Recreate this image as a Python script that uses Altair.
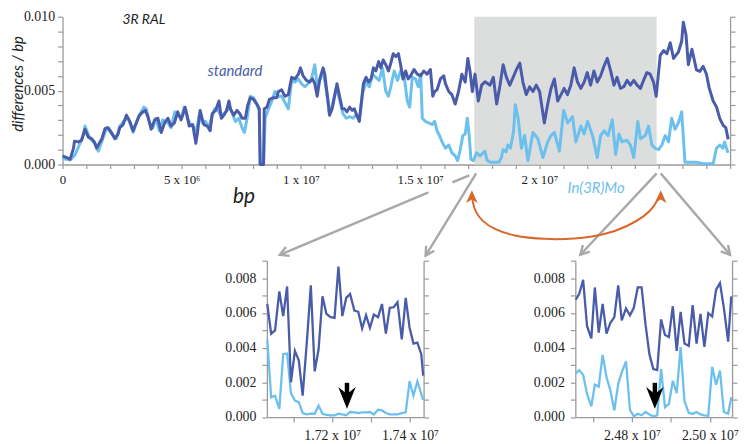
import math
import altair as alt
import pandas as pd

# ---------------- data ----------------
# main panel: position in Mb, differences per kb (= differences/bp x 1000)
STD_MB = [0.00,0.18,0.32,0.46,0.50,0.67,0.80,0.94,1.08,1.22,
          1.33,1.43,1.57,1.64,1.78,1.91,2.05,2.19,2.33,2.40,
          2.54,2.68,2.82,2.96,3.09,3.23,3.37,3.47,3.58,3.72,
          3.86,4.00,4.14,4.28,4.42,4.55,4.69,4.83,4.97,5.04,
          5.14,5.22,5.31,5.46,5.59,5.66,5.77,5.87,5.93,6.07,
          6.19,6.28,6.42,6.56,6.66,6.77,6.88,6.98,7.04,7.18,
          7.32,7.43,7.53,7.67,7.76,7.875,8.01,8.15,8.25,8.29,
          8.43,8.46,8.57,8.68,8.85,8.99,9.05,9.19,9.33,9.47,
          9.61,9.75,9.89,9.98,10.09,10.23,10.37,10.48,10.58,10.68,
          10.79,10.93,11.00,11.06,11.13,11.20,11.31,11.41,11.51,11.62,
          11.73,11.83,11.93,12.04,12.15,12.24,12.34,12.45,12.52,12.62,
          12.73,12.84,12.94,13.04,13.14,13.26,13.35,13.45,13.56,13.67,
          13.77,13.87,13.98,14.09,14.18,14.28,14.39,14.50,14.60,14.74,
          14.88,15.02,15.15,15.29,15.43,15.53,15.61,15.71,15.85,15.99,
          16.06,16.20,16.33,16.47,16.61,16.75,16.89,17.00,17.09,17.19,
          17.30,17.44,17.58,17.72,17.93,18.07,18.21,18.35,18.48,18.62,
          18.76,18.90,19.04,19.18,19.31,19.45,19.59,19.73,19.87,20.01,
          20.15,20.21,20.35,20.49,20.63,20.77,20.91,21.04,21.18,21.32,
          21.46,21.60,21.74,21.88,22.01,22.15,22.29,22.43,22.57,22.71,
          22.85,22.99,23.13,23.26,23.40,23.54,23.68,23.82,23.96,24.10,
          24.24,24.37,24.51,24.65,24.79,24.90,25.00,25.07,25.21,25.35,
          25.49,25.63,25.83,25.97,26.04,26.15,26.25,26.40,26.59,26.73,
          26.87,27.01,27.12,27.29,27.43,27.57,27.71,27.82,27.92]
STD_PER_KB = [0.58,0.47,0.36,1.11,1.58,1.53,1.64,2.38,1.85,1.75,
              1.53,1.11,1.53,1.70,2.43,2.49,2.17,1.75,2.07,2.49,
              2.70,3.34,2.92,2.28,2.81,3.34,3.56,3.66,3.24,2.38,
              3.02,3.13,2.17,2.81,3.13,2.60,2.81,3.56,3.02,3.34,
              3.88,3.34,2.60,2.70,1.43,2.17,3.66,3.02,2.70,2.60,
              2.28,3.45,3.66,4.30,3.13,3.34,3.66,4.30,3.77,3.34,
              3.66,3.45,3.13,3.13,3.98,4.52,4.41,4.09,3.77,0.00,
              0.00,3.77,3.88,4.41,4.52,4.52,4.94,5.05,4.62,4.73,
              5.90,5.79,6.11,6.54,6.00,5.69,5.58,5.79,5.47,4.62,
              5.79,6.54,6.11,5.26,4.41,3.34,3.77,4.62,5.47,4.62,
              3.77,3.77,3.56,3.88,3.66,3.77,3.34,2.92,3.98,5.47,
              5.90,5.58,5.79,6.54,6.33,6.96,6.54,7.07,6.75,6.33,
              6.86,7.50,7.30,7.50,6.75,5.79,6.33,5.79,6.00,6.43,
              6.11,6.00,6.33,6.11,6.43,4.62,4.94,5.05,5.79,6.00,
              5.47,4.94,4.73,4.09,4.94,6.11,5.58,7.18,6.33,4.94,
              6.11,4.30,5.37,5.60,5.37,5.90,4.09,5.37,6.75,5.90,
              5.37,5.90,6.43,6.86,5.58,4.73,5.26,4.94,5.37,4.94,
              3.45,2.81,4.09,5.15,5.79,4.30,4.73,5.15,4.73,5.37,
              6.54,5.58,5.15,5.58,6.22,5.37,6.33,5.58,6.00,6.65,
              7.18,6.33,5.37,5.90,5.15,5.26,5.69,5.37,5.69,5.37,
              5.15,5.69,6.22,6.11,5.58,4.62,6.22,7.39,7.71,7.50,
              8.24,7.18,7.60,8.34,9.63,8.80,6.75,7.80,6.40,6.30,
              6.65,6.11,5.20,4.30,3.90,3.10,2.65,2.50,1.70]

MO_MB = [0.00,0.18,0.32,0.46,0.53,0.67,0.87,0.94,1.15,1.36,
         1.50,1.71,1.85,2.12,2.26,2.40,2.61,2.75,2.96,3.16,
         3.41,3.51,3.65,3.79,3.92,4.06,4.20,4.42,4.55,4.71,
         4.85,4.99,5.10,5.24,5.38,5.52,5.59,5.73,5.87,6.00,
         6.14,6.24,6.38,6.52,6.63,6.77,6.91,7.02,7.25,7.39,
         7.53,7.63,7.74,7.875,8.01,8.15,8.25,8.29,8.43,8.50,
         8.64,8.78,8.91,9.05,9.19,9.33,9.47,9.61,9.75,9.89,
         10.02,10.16,10.30,10.44,10.58,10.68,10.79,10.93,11.06,11.20,
         11.34,11.48,11.62,11.76,11.90,12.04,12.18,12.31,12.45,12.59,
         12.73,12.87,13.01,13.14,13.28,13.42,13.56,13.67,13.77,13.91,
         14.05,14.18,14.32,14.46,14.56,14.67,14.81,14.92,15.02,15.09,
         15.22,15.36,15.50,15.61,15.71,15.81,15.92,16.06,16.20,16.33,
         16.47,16.57,16.68,16.79,16.89,16.98,17.05,17.13,17.23,17.37,
         17.51,17.64,17.72,17.80,17.93,18.13,18.30,18.41,18.48,18.60,
         18.68,18.79,18.92,18.99,19.11,19.25,19.38,19.52,19.73,19.94,
         20.15,20.35,20.49,20.63,20.84,21.02,21.19,21.39,21.53,21.74,
         21.88,22.02,22.23,22.43,22.57,22.71,22.88,23.06,23.20,23.34,
         23.47,23.68,23.82,23.96,24.13,24.24,24.45,24.58,24.72,24.86,
         25.00,25.14,25.28,25.42,25.55,25.69,25.83,25.97,26.11,26.59,
         26.87,27.29,27.43,27.57,27.70,27.77,27.91]
MO_PER_KB = [0.40,0.35,0.30,0.55,0.68,1.19,2.00,2.60,1.75,1.43,
             0.90,1.85,2.49,1.96,1.75,2.60,3.02,3.13,2.17,3.13,
             3.88,3.77,2.81,2.49,3.13,2.28,3.02,2.81,2.49,3.56,
             3.34,3.13,3.88,3.13,2.70,2.49,2.07,3.34,2.81,2.92,
             2.49,3.13,3.77,3.66,3.34,3.45,3.66,3.88,2.92,3.13,
             2.49,2.17,3.13,4.62,4.52,4.09,3.66,0.00,0.00,3.13,
             3.77,4.30,4.94,4.62,4.62,4.20,3.77,5.69,5.58,5.79,
             5.47,5.26,5.47,5.79,6.75,5.26,5.69,6.33,5.05,3.34,
             4.20,5.15,4.41,3.45,3.13,3.24,3.13,3.34,3.13,4.84,
             5.58,5.26,6.11,5.90,5.69,6.54,4.94,4.62,5.26,6.33,
             5.69,6.33,6.11,4.30,3.88,5.90,5.79,5.26,6.11,3.13,
             2.92,2.81,2.71,2.92,2.28,1.96,1.53,1.11,1.32,0.79,
             0.58,0.26,1.00,1.96,2.07,3.13,2.07,0.36,0.26,0.79,
             0.58,0.79,0.90,0.30,0.15,0.15,0.15,0.47,1.00,0.85,
             1.32,1.11,2.28,4.05,3.13,1.10,1.96,0.26,2.17,1.74,
             0.47,1.53,1.96,2.17,0.90,3.66,2.81,3.24,1.53,2.60,
             2.07,2.92,1.96,0.47,1.96,2.28,1.96,3.02,0.68,2.07,
             1.53,1.64,1.32,0.47,2.92,1.74,1.96,2.60,1.32,1.10,
             1.00,1.32,1.96,1.53,3.13,2.38,2.81,3.56,0.15,0.15,
             0.05,0.05,1.10,1.32,1.10,1.53,0.79]

# left inset (zoom near 17.2 Mb)
INS1_MB = [17.033,17.043,17.053,17.064,17.074,17.084,17.094,17.104,17.114,17.124,
           17.135,17.145,17.155,17.165,17.175,17.185,17.196,17.206,17.216,17.226,
           17.236,17.246,17.257,17.267,17.277,17.287,17.297,17.307,17.318,17.328,
           17.338,17.348,17.358,17.368,17.379,17.389,17.399,17.409,17.419,17.429,17.434]
INS1_STD = [6.51,4.80,4.99,7.23,5.81,7.52,2.00,3.81,3.27,1.23,
            4.40,7.58,2.63,3.90,6.95,5.94,5.75,5.71,8.66,5.81,
            6.86,7.09,6.13,6.06,5.10,5.86,5.14,5.90,5.75,6.51,
            4.80,6.29,6.32,6.61,4.47,6.86,5.14,4.23,4.28,3.62,2.38]
INS1_MO = [4.47,1.14,1.23,0.47,3.62,3.66,1.37,0.95,0.86,0.23,
           0.15,0.19,0.19,0.66,0.19,0.13,0.10,0.10,0.19,0.15,
           0.10,0.29,0.27,0.23,0.27,0.27,0.29,0.15,0.42,0.38,
           0.23,0.15,0.15,0.15,0.23,0.27,2.06,1.23,2.06,1.33,0.99]

# right inset (zoom near 24.85 Mb)
INS2_MB = [24.656,24.665,24.675,24.685,24.696,24.705,24.715,24.725,24.735,24.745,
           24.755,24.765,24.774,24.785,24.795,24.805,24.815,24.825,24.835,24.845,
           24.855,24.865,24.875,24.885,24.895,24.905,24.915,24.925,24.935,24.946,
           24.956,24.966,24.976,24.986,24.996,25.006,25.016,25.026,25.036,25.047,25.055]
INS2_STD = [6.76,7.09,7.90,5.23,4.53,7.46,4.86,6.51,4.80,5.43,
            5.75,7.58,5.56,6.25,5.86,6.29,7.46,7.46,5.33,3.62,
            2.76,2.70,5.62,4.72,4.61,6.38,3.81,6.06,4.23,4.09,
            6.44,4.23,5.94,4.04,5.98,5.79,7.33,7.71,6.29,4.34,6.95]
INS2_MO = [2.51,2.70,2.44,1.33,0.61,1.86,1.75,3.58,2.29,1.52,
           0.38,1.90,2.57,3.20,0.42,0.04,0.19,0.10,0.29,0.15,
           0.04,0.10,2.76,0.57,0.76,2.09,1.37,4.03,0.91,0.23,
           0.19,0.29,0.15,0.10,0.08,2.89,1.86,2.67,0.29,0.19,1.14]

# highlighted region and inset windows (Mb)
BOX_MB = [17.27, 24.92]
INS1_DOMAIN_MB = [17.032, 17.435]
INS2_DOMAIN_MB = [24.655, 25.057]
INS1_TICKS_MB = [17.1, 17.2, 17.3, 17.4]
INS2_TICKS_MB = [24.7, 24.8, 24.9, 25.0]
INS1_LABELS = {17.2: "1.72 x 10⁷", 17.4: "1.74 x 10⁷"}
INS2_LABELS = {24.8: "2.48 x 10⁷", 25.0: "2.50 x 10⁷"}
MAIN_LABELS = {0: "0", 5: "5 x 10⁶", 10: "1 x 10⁷", 15: "1.5 x 10⁷", 20: "2 x 10⁷"}

# black markers in the insets: Mb position, tip / shaft-top values (per kb)
INS1_MARK_MB, INS2_MARK_MB = 17.238, 24.859
MARK_TIP, MARK_TOP = 0.47, 1.97

# annotation geometry in main-panel data units (Mb, per kb)
GRAY_SEGMENTS = [  # x1, y1, x2, y2
    (17.06, -0.74, 16.35, -1.21),
    (15.35, -1.89, 9.11, -6.11),
    (17.35, -0.60, 15.23, -6.17),
    (24.92, -0.60, 21.72, -6.11),
    (25.09, -0.60, 28.00, -6.11),
]
GRAY_HEAD_FROM = [1, 2, 3, 4]  # segments that end with an arrow head
ORANGE_MB = [17.18,17.22,17.35,17.64,18.14,18.97,20.22,21.47,22.72,23.67,24.38,24.80,25.01,25.07]
ORANGE_PER_KB = [-2.15,-2.62,-3.22,-3.83,-4.36,-4.80,-5.03,-5.00,-4.70,-4.16,-3.49,-2.82,-2.21,-2.08]
ORANGE_TIPS = [(17.17, -1.74), (25.09, -1.74)]
TEXTS = [  # text, Mb, per kb, color key, size
    ("3R RAL", 3.41, 9.77, "ink", 14),
    ("standard", 7.24, 6.30, "dark", 15),
    ("In(3R)Mo", 22.38, -1.61, "light", 15),
    ("bp", 7.61, -2.21, "ink", 21),
]
YTITLE = ("differences / bp", -1.87, 5.45)

# ---------------- style ----------------
W, H = 673, 149
IW, IH = 158, 157.6
XMAX, YMAX, IYMAX = 28e6, 0.010, 0.009
DARK = "#4a5ca9"
LIGHT = "#6cc0ee"
BOXGRAY = "#dcdddd"
ARROWGRAY = "#a8a8a8"
ORANGE = "#d7692b"
AXISGRAY = "#9a9a9a"
INK = "#222222"
SERIF = "Liberation Serif"
SANS = "Lato"
COLORS = {"ink": INK, "dark": DARK, "light": LIGHT}

CHEVRON = "M-0.55,1 L0,0 L0.55,1"
OHEAD = "M0,0 L-0.5,1.1 L0,0.8 L0.5,1.1 Z"
BHEAD = "M0,0 L-0.68,-1.7 L0,-1.15 L0.68,-1.7 Z"


def bp(mb):
    return [m * 1e6 for m in mb]


def dpb(pk):
    return [p / 1000 for p in pk]


def label_expr(d, scale):
    parts = [f"datum.value == {int(round(k * scale))} ? '{v}'" for k, v in d.items()]
    return " : ".join(parts) + " : ''"


# ---------------- main panel ----------------
xs = alt.Scale(domain=[0, XMAX], nice=False, zero=False)
ys = alt.Scale(domain=[0, YMAX], nice=False)
main_x_axis = alt.Axis(values=[i * 1e6 for i in range(29)], labelExpr=label_expr(MAIN_LABELS, 1e6),
                       title="", tickSize=4, labelFontSize=13, labelPadding=5,
                       labelFlush=False, labelOverlap=False)
main_y_axis = alt.Axis(values=[i / 1000 for i in range(11)],
                       labelExpr="round(datum.value*1000) % 5 == 0 ? format(datum.value, '.3f') : ''",
                       title="", tickSize=5, labelFontSize=14, labelPadding=3,
                       labelFlush=False, labelOverlap=False)
main_right_axis = alt.Axis(orient="right", values=[i / 1000 for i in range(11)], labels=False,
                           title="", tickSize=5)


def MX(f="x"):
    return alt.X(f"{f}:Q", scale=xs, axis=main_x_axis)


def MY(f="y"):
    return alt.Y(f"{f}:Q", scale=ys, axis=main_y_axis)


box = alt.Chart(pd.DataFrame({"x": [bp(BOX_MB)[0]], "x2": [bp(BOX_MB)[1]],
                              "y": [0.0], "y2": [YMAX]})).mark_rect(color=BOXGRAY).encode(
    x=MX(), x2="x2:Q", y=MY(), y2="y2:Q")

mo_line = alt.Chart(pd.DataFrame({"x": bp(MO_MB), "y": dpb(MO_PER_KB)})).mark_line(
    color=LIGHT, strokeWidth=3, strokeJoin="round").encode(x=MX(), y=MY())
std_line = alt.Chart(pd.DataFrame({"x": bp(STD_MB), "y": dpb(STD_PER_KB)})).mark_line(
    color=DARK, strokeWidth=3, strokeJoin="round").encode(x=MX(), y=MY())

seg_df = pd.DataFrame({
    "x": [s[0] * 1e6 for s in GRAY_SEGMENTS], "y": [s[1] / 1000 for s in GRAY_SEGMENTS],
    "x2": [s[2] * 1e6 for s in GRAY_SEGMENTS], "y2": [s[3] / 1000 for s in GRAY_SEGMENTS]})
segs = alt.Chart(seg_df).mark_rule(color=ARROWGRAY, strokeWidth=2.4).encode(
    x=MX(), y=MY(), x2="x2:Q", y2="y2:Q")

kx, ky = W / XMAX, H / YMAX
heads = []
for i in GRAY_HEAD_FROM:
    x1, y1, x2, y2 = GRAY_SEGMENTS[i]
    dx = (x2 - x1) * 1e6 * kx
    dy = -(y2 - y1) / 1000 * ky
    ang = math.degrees(math.atan2(dx, -dy)) % 360
    heads.append({"x": x2 * 1e6, "y": y2 / 1000, "ang": ang})
gray_heads = alt.Chart(pd.DataFrame(heads)).mark_point(
    shape=CHEVRON, size=310, filled=False, color=ARROWGRAY, strokeWidth=2.4, opacity=1).encode(
    x=MX(), y=MY(), angle=alt.Angle("ang:Q", scale=None))

orange = alt.Chart(pd.DataFrame({"x": bp(ORANGE_MB), "y": dpb(ORANGE_PER_KB)})).mark_line(
    color=ORANGE, strokeWidth=2, interpolate="natural").encode(x=MX(), y=MY())
orange_heads = alt.Chart(pd.DataFrame({"x": [t[0] * 1e6 for t in ORANGE_TIPS],
                                       "y": [t[1] / 1000 for t in ORANGE_TIPS]})).mark_point(
    shape=OHEAD, size=557, filled=True, color=ORANGE, opacity=1).encode(x=MX(), y=MY())

txt_df = pd.DataFrame({"t": [t[0] for t in TEXTS], "x": [t[1] * 1e6 for t in TEXTS],
                       "y": [t[2] / 1000 for t in TEXTS], "c": [COLORS[t[3]] for t in TEXTS],
                       "s": [t[4] for t in TEXTS]})
texts = alt.Chart(txt_df).mark_text(font=SANS, fontStyle="italic", baseline="middle").encode(
    x=MX(), y=MY(), text="t:N", color=alt.Color("c:N", scale=None), size=alt.Size("s:Q", scale=None))
ytitle = alt.Chart(pd.DataFrame({"t": [YTITLE[0]], "x": [YTITLE[1] * 1e6], "y": [YTITLE[2] / 1000]})).mark_text(
    font=SANS, fontStyle="italic", fontSize=15, angle=270, color=INK, baseline="middle").encode(
    x=MX(), y=MY(), text="t:N")

main_dummy = alt.Chart(pd.DataFrame({"y": [0.0]})).mark_point(opacity=0).encode(
    y=alt.Y("y:Q", scale=ys, axis=main_right_axis))

top = alt.layer(
    alt.layer(box, mo_line, std_line, segs, gray_heads, orange, orange_heads, texts, ytitle),
    main_dummy,
).resolve_scale(y="independent").properties(width=W, height=H)


# ---------------- insets ----------------
def inset(mb, std, mo, dom_mb, ticks_mb, labels, mark_mb):
    ixs = alt.Scale(domain=bp(dom_mb), nice=False, zero=False)
    iys = alt.Scale(domain=[0, IYMAX], nice=False)
    xax = alt.Axis(values=bp(ticks_mb), labelExpr=label_expr(labels, 1e6), title="", tickSize=5,
                   labelFontSize=14, labelPadding=7, labelFlush=False, labelOverlap=False)
    yax = alt.Axis(values=[i / 1000 for i in range(10)],
                   labelExpr="round(datum.value*1000) % 2 == 0 ? format(datum.value, '.3f') : ''",
                   title="", tickSize=5, labelFontSize=14, labelPadding=6,
                   labelFlush=False, labelOverlap=False)
    rax = alt.Axis(orient="right", values=[i / 1000 for i in range(10)], labels=False, title="", tickSize=5)
    X = alt.X("x:Q", scale=ixs, axis=xax)
    Y = alt.Y("y:Q", scale=iys, axis=yax)
    l1 = alt.Chart(pd.DataFrame({"x": bp(mb), "y": dpb(mo)})).mark_line(
        color=LIGHT, strokeWidth=2.3).encode(x=X, y=Y)
    l2 = alt.Chart(pd.DataFrame({"x": bp(mb), "y": dpb(std)})).mark_line(
        color=DARK, strokeWidth=2.3).encode(x=X, y=Y)
    shaft = alt.Chart(pd.DataFrame({"x": [mark_mb * 1e6], "y": [MARK_TOP / 1000],
                                    "y2": [(MARK_TIP + 0.8) / 1000]})).mark_rule(
        color="black", strokeWidth=4.5).encode(x=X, y=Y, y2="y2:Q")
    head = alt.Chart(pd.DataFrame({"x": [mark_mb * 1e6], "y": [MARK_TIP / 1000]})).mark_point(
        shape=BHEAD, size=670, filled=True, color="black", opacity=1).encode(x=X, y=Y)
    dummy = alt.Chart(pd.DataFrame({"y": [0.0]})).mark_point(opacity=0).encode(
        y=alt.Y("y:Q", scale=iys, axis=rax))
    return alt.layer(alt.layer(l1, l2, shaft, head), dummy).resolve_scale(
        y="independent").properties(width=IW, height=IH)


inset1 = inset(INS1_MB, INS1_STD, INS1_MO, INS1_DOMAIN_MB, INS1_TICKS_MB, INS1_LABELS, INS1_MARK_MB)
inset2 = inset(INS2_MB, INS2_STD, INS2_MO, INS2_DOMAIN_MB, INS2_TICKS_MB, INS2_LABELS, INS2_MARK_MB)
spacer = alt.Chart(pd.DataFrame({"a": [0]})).mark_point(opacity=0).properties(width=53, height=IH)

bottom = alt.hconcat(spacer, inset1, inset2, spacing=153, bounds="flush")
chart = alt.vconcat(top, bottom, spacing=97, bounds="flush").properties(
    padding={"left": 3, "top": 0, "right": 0, "bottom": 0}, background="white"
).configure_view(strokeWidth=0).configure_axis(
    domainColor=AXISGRAY, tickColor=AXISGRAY, labelColor=INK, labelFont=SERIF,
    grid=False, domainWidth=1.3, tickWidth=1.2)

chart.save("out.html", embed_options={"renderer": "svg", "actions": False})
